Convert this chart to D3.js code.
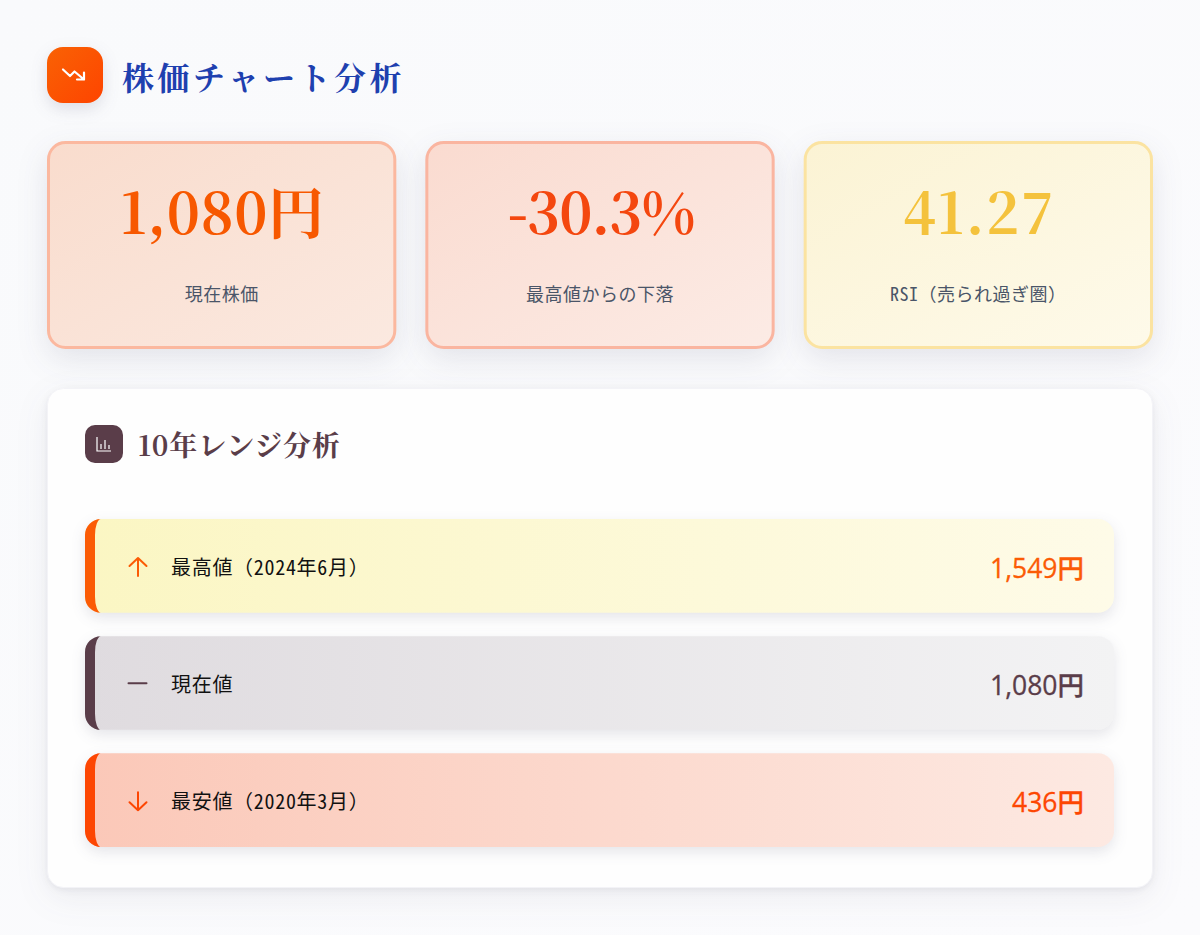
<!DOCTYPE html>
<html lang="ja">
<head>
<meta charset="utf-8">
<script src="https://d3js.org/d3.v7.min.js"></script>
<style>
html, body { margin: 0; padding: 0; background: #f9fafc; }
svg { display: block; }
.serif { font-family: "Noto Serif CJK JP", "Liberation Serif", "DejaVu Serif", serif; font-weight: 700; }
.mono { font-family: "Noto Sans Mono CJK JP", "DejaVu Sans Mono", "Noto Sans CJK JP", monospace; }
.sans { font-family: "Open Sans", "Noto Sans CJK JP", sans-serif; font-weight: 500; }
</style>
</head>
<body>
<script>
var svgWidth = 1200;
var svgHeight = 935;

// Data
var titleText = "株価チャート分析";
var panelTitle = "10年レンジ分析";

var cardValues = ["1,080円", "-30.3%", "41.27"];
var cardLabels = ["現在株価", "最高値からの下落", "RSI（売られ過ぎ圏）"];
var cardColors = ["#f75800", "#f4470f", "#f4c23c"];
var cardBorders = ["#fbb89f", "#fab5a0", "#fbe3a1"];
var cardFrom = ["#f9dccd", "#fadbd0", "#fbf3d4"];
var cardTo = ["#fbe9e0", "#fcebe5", "#fefaea"];
var cardSpacing = [0.6, -1, 1.7];

var rowLabels = ["最高値（2024年6月）", "現在値", "最安値（2020年3月）"];
var rowValues = ["1,549円", "1,080円", "436円"];
var rowIcons = ["up", "flat", "down"];
var rowColors = ["#fb5b05", "#5a3d49", "#fd4602"];
var rowFrom = ["#fbf6c3", "#dfdbdf", "#fbc8b8"];
var rowTo = ["#fefbe8", "#f3f3f4", "#fde9e2"];

var svg = d3.select("body").append("svg")
  .attr("width", svgWidth)
  .attr("height", svgHeight);

var defs = svg.append("defs");

function addGradient(id, from, to, x2, y2) {
  var g = defs.append("linearGradient").attr("id", id)
    .attr("x1", 0).attr("y1", 0).attr("x2", x2).attr("y2", y2);
  g.append("stop").attr("offset", "0%").attr("stop-color", from);
  g.append("stop").attr("offset", "100%").attr("stop-color", to);
}

addGradient("bg", "#f9fafc", "#fbfbfd", 1, 1);
addGradient("badge", "#f96204", "#fe4400", 1, 1);
cardFrom.forEach((c, i) => addGradient("card" + i, c, cardTo[i], 1, 1));
rowFrom.forEach((c, i) => addGradient("row" + i, c, rowTo[i], 1, 0));

// Scales
var cardScale = d3.scaleBand()
  .domain(d3.range(cardValues.length))
  .range([47, 1153])
  .paddingInner(0.0767);

var rowScale = d3.scaleBand()
  .domain(d3.range(rowLabels.length))
  .range([519, 847])
  .paddingInner(0.2);

svg.append("rect")
  .attr("width", svgWidth)
  .attr("height", svgHeight)
  .attr("fill", "url(#bg)");

// Header
svg.append("rect")
  .attr("x", 47).attr("y", 47)
  .attr("width", 56).attr("height", 56)
  .attr("rx", 16)
  .attr("fill", "url(#badge)")
  .style("filter", "drop-shadow(0 6px 8px rgba(60,60,90,.14))");

svg.append("g")
  .attr("transform", "translate(61,61)")
  .append("path")
  .attr("d", "M2 8.5 L9 15 L13.5 10.5 L23 18.5 M23 11.5 V18.5 H16")
  .attr("fill", "none")
  .attr("stroke", "#fff")
  .attr("stroke-width", 2.2)
  .attr("stroke-linecap", "round")
  .attr("stroke-linejoin", "round");

svg.append("text")
  .attr("class", "serif")
  .attr("x", 122).attr("y", 90)
  .attr("font-size", 32)
  .attr("letter-spacing", 3.5)
  .attr("fill", "#1e40af")
  .text(titleText);

// Cards
var cards = svg.selectAll(".card")
  .data(cardValues)
  .enter()
  .append("g")
  .attr("class", "card")
  .attr("transform", (d, i) => `translate(${cardScale(i)},141)`);

cards.append("rect")
  .attr("x", 1.5).attr("y", 1.5)
  .attr("width", cardScale.bandwidth() - 3)
  .attr("height", 205)
  .attr("rx", 17)
  .attr("fill", (d, i) => `url(#card${i})`)
  .attr("stroke", (d, i) => cardBorders[i])
  .attr("stroke-width", 3)
  .style("filter", "drop-shadow(0 10px 15px rgba(50,50,80,.11))");

cards.append("text")
  .attr("class", "serif")
  .attr("x", cardScale.bandwidth() / 2 + 1)
  .attr("y", 93)
  .attr("text-anchor", "middle")
  .attr("font-size", 56)
  .attr("letter-spacing", (d, i) => cardSpacing[i])
  .attr("fill", (d, i) => cardColors[i])
  .text(d => d);

cards.append("text")
  .attr("class", "mono")
  .attr("x", cardScale.bandwidth() / 2)
  .attr("y", 160)
  .attr("text-anchor", "middle")
  .attr("font-size", 18)
  .attr("letter-spacing", 0.5)
  .attr("fill", "#4a5568")
  .text((d, i) => cardLabels[i]);

// Panel
svg.append("rect")
  .attr("x", 47.5).attr("y", 388.5)
  .attr("width", 1105).attr("height", 499)
  .attr("rx", 16)
  .attr("fill", "#fefefe")
  .attr("stroke", "#f3f3f7")
  .style("filter", "drop-shadow(0 2px 3px rgba(50,50,80,.08)) drop-shadow(0 10px 16px rgba(50,50,80,.07))");

svg.append("rect")
  .attr("x", 85).attr("y", 425)
  .attr("width", 38).attr("height", 38)
  .attr("rx", 10)
  .attr("fill", "#5a3d49");

svg.append("path")
  .attr("d", "M97 437 V451 H111 M101 449 V444 M105 449 V440 M109 449 V445")
  .attr("fill", "none")
  .attr("stroke", "#fff")
  .attr("stroke-width", 1.2);

svg.append("text")
  .attr("class", "serif")
  .attr("x", 138).attr("y", 456)
  .attr("font-size", 28)
  .attr("letter-spacing", 0.8)
  .attr("fill", "#5a3d49")
  .text(panelTitle);

// Range rows
var rowX = 85;
var rowW = 1029;
var rowR = 16;
var edge = 10;

var rows = svg.selectAll(".row")
  .data(rowLabels)
  .enter()
  .append("g")
  .attr("class", "row")
  .attr("transform", (d, i) => `translate(${rowX},${rowScale(i)})`);

rows.append("rect")
  .attr("width", rowW)
  .attr("height", rowScale.bandwidth())
  .attr("rx", rowR)
  .attr("fill", (d, i) => `url(#row${i})`)
  .style("filter", "drop-shadow(0 5px 7px rgba(50,50,80,.12))");

// left accent edge, a crescent like a css border-left on a rounded box
rows.append("path")
  .attr("d", function() {
    var h = rowScale.bandwidth();
    return `M${rowR} 0 A${rowR} ${rowR} 0 0 0 0 ${rowR} V${h - rowR} A${rowR} ${rowR} 0 0 0 ${rowR} ${h}
      A${rowR - edge} ${rowR} 0 0 1 ${edge} ${h - rowR} V${rowR} A${rowR - edge} ${rowR} 0 0 1 ${rowR} 0 Z`;
  })
  .attr("fill", (d, i) => rowColors[i]);

var iconPaths = {
  up: "M53 57 V39 M44.5 47 L53 39 L61.5 47",
  flat: "M43.5 47 H61.5",
  down: "M53 39 V57 M44.5 49 L53 57 L61.5 49"
};

rows.append("path")
  .attr("d", (d, i) => iconPaths[rowIcons[i]])
  .attr("fill", "none")
  .attr("stroke", (d, i) => rowColors[i])
  .attr("stroke-width", 2)
  .attr("stroke-linecap", "round")
  .attr("stroke-linejoin", "round");

rows.append("text")
  .attr("class", "mono")
  .attr("x", 86)
  .attr("y", 56)
  .attr("font-size", 20)
  .attr("font-weight", 500)
  .attr("letter-spacing", 0.7)
  .attr("fill", "#111")
  .text(d => d);

rows.append("text")
  .attr("class", "sans")
  .attr("x", 999)
  .attr("y", 59)
  .attr("text-anchor", "end")
  .attr("font-size", 26.5)
  .attr("fill", (d, i) => rowColors[i])
  .attr("stroke", (d, i) => rowColors[i])
  .attr("stroke-width", 0.3)
  .text((d, i) => rowValues[i]);
</script>
</body>
</html>
